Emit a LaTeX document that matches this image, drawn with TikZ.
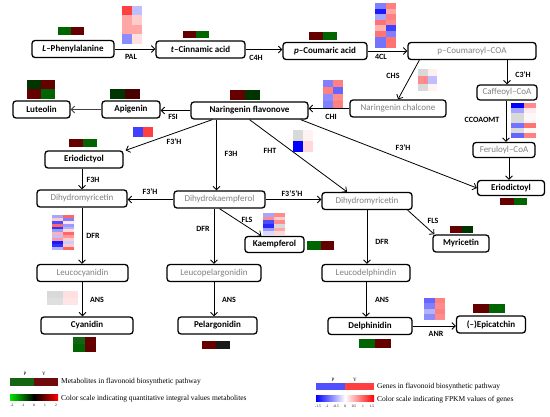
\documentclass[tikz,border=0pt]{standalone}
\usepackage{fontspec}
\setmainfont{Carlito}
\newfontfamily\tnr{Liberation Serif}
\usetikzlibrary{arrows.meta,calc}
\definecolor{mred}{RGB}{100,0,0}
\definecolor{mgreen}{RGB}{0,100,0}
\definecolor{mdgreen}{RGB}{0,52,0}
\definecolor{mdred}{RGB}{72,0,0}
\definecolor{lgreen}{RGB}{20,100,20}
\definecolor{lred}{RGB}{110,10,10}
\definecolor{gtext}{RGB}{128,128,128}
\definecolor{gblue}{RGB}{80,80,255}
\definecolor{gred}{RGB}{255,64,64}
\newcommand\hmap[5]{%
  \foreach \ca/\cb [count=\r from 0] in {#5}{%
    \fill[\ca] ({#1},{#2+\r*#4}) rectangle ++(#3,#4);
    \fill[\cb] ({#1+#3},{#2+\r*#4}) rectangle ++(#3,#4);
  }}
\tikzset{
  box/.style={draw=black, line width=1.3pt, rounded corners=3pt, fill=white,
    minimum height=17pt, inner sep=0pt, font=\fontsize{9}{10}\selectfont},
  mb/.style={box, font=\fontsize{9}{10}\selectfont\bfseries},
  gb/.style={box, text=gtext},
  conn/.style={line width=0.8pt, -{Straight Barb[length=3.5pt,width=7pt]}},
  lab/.style={font=\fontsize{8}{9}\selectfont\bfseries, inner sep=0pt},
  leg/.style={font=\tnr\fontsize{7.5}{8}\selectfont, inner sep=0pt, anchor=west},
  tiny/.style={font=\tnr\fontsize{5}{5.5}\selectfont, inner sep=0pt},
  micro/.style={font=\tnr\fontsize{3.6}{4}\selectfont, inner sep=0pt}
}
\begin{document}
\begin{tikzpicture}[x=1pt,y=-1pt]
\useasboundingbox (0,0) rectangle (550,417);
% nodes
\node[mb, minimum width=82pt] (phe) at (73,49) {\textit{L}–Phenylalanine};
\node[mb, minimum width=89pt] (cin) at (200.5,49.5) {\textit{t}–Cinnamic acid};
\node[mb, minimum width=84pt] (pcou) at (325,51) {\textit{p}–Coumaric acid};
\node[gb, minimum width=128pt] (pcoa) at (472,51) {p–Coumaroyl–COA};
\node[gb, minimum width=60pt, minimum height=15pt] (caf) at (507,92.5) {Caffeoyl–CoA};
\node[gb, minimum width=96pt] (chal) at (398,108.5) {Naringenin chalcone};
\node[mb, minimum width=117pt] (nar) at (249.5,110.5) {Naringenin flavonove};
\node[mb, minimum width=58pt] (api) at (131,109.5) {Apigenin};
\node[mb, minimum width=57pt] (lut) at (41.5,109.5) {Luteolin};
\node[mb, minimum width=78pt] (erio) at (84,159.5) {Eriodictyol};
\node[gb, minimum width=62pt, minimum height=15pt] (fer) at (504,150) {Feruloyl–CoA};
\node[mb, minimum width=67pt, minimum height=15pt] (eriod2) at (511,188) {Eriodictoyl};
\node[gb, minimum width=90pt] (dhm1) at (82,198.5) {Dihydromyricetin};
\node[gb, minimum width=91pt] (dhk) at (219.5,199.5) {Dihydrokaempferol};
\node[gb, minimum width=90pt] (dhm2) at (367,201) {Dihydromyricetin};
\node[mb, minimum width=59pt, minimum height=16pt] (kaem) at (274.5,244.5) {Kaempferol};
\node[mb, minimum width=56pt] (myr) at (461,243.5) {Myricetin};
\node[gb, minimum width=91pt] (leucy) at (82.5,273) {Leucocyanidin};
\node[gb, minimum width=94pt] (leupel) at (214,273) {Leucopelargonidin};
\node[gb, minimum width=88pt] (leudel) at (366,273) {Leucodelphindin};
\node[mb, minimum width=92pt] (cyan) at (87,325.5) {Cyanidin};
\node[mb, minimum width=79pt] (pel) at (217.5,325.5) {Pelargonidin};
\node[mb, minimum width=84pt] (delph) at (370,326) {Delphinidin};
\node[mb, minimum width=69pt] (epi) at (491,324.5) {(–)Epicatchin};
% connectors
\draw[conn] (phe.east) -- (cin.west |- phe.east);
\draw[conn] (cin.east) -- (pcou.west |- cin.east);
\draw[conn] (pcou.east) -- (pcoa.west);
\draw[conn] ([xshift=12pt]pcoa.south west) -- (chal.north);
\draw[conn] (pcoa.south -| caf.north) -- (caf.north);
\draw[conn] (chal.west) -- (nar.east |- chal.west);
\draw[conn] (nar.west) -- (api.east |- nar.west);
\draw[conn, draw=black!75] (api.west) -- (lut.east);
\draw[conn] ([xshift=22pt]nar.south west) -- ([xshift=2pt]erio.north east);
\draw[conn] ([xshift=-3pt]dhk.north |- nar.south) -- ([xshift=-3pt]dhk.north);
\draw[conn] (nar.south) -- ([xshift=-20pt]dhm2.north);
\draw[conn] ([xshift=-8pt]nar.south east) -- (eriod2.west);
\draw[conn] (caf.south -| fer.north) ++(2pt,0) -- ([xshift=2pt]fer.north);
\draw[conn] (eriod2.north |- fer.south) ++(-2pt,0) -- ([xshift=-2pt]eriod2.north);
\draw[conn] (erio.south -| dhm1.north) -- (dhm1.north);
\draw[conn] (dhk.west) -- (dhm1.east |- dhk.west);
\draw[conn] (dhk.east) -- (dhm2.west |- dhk.east);
\draw[conn] (dhm1.south) -- (leucy.north -| dhm1.south);
\draw[conn] (leupel.north |- dhk.south) -- (leupel.north);
\draw[conn] (dhk.south) -- ([xshift=17pt]kaem.north west);
\draw[conn] (leucy.south) -- (leucy.south |- cyan.north);
\draw[conn] (leupel.south) -- (leupel.south |- pel.north);
\draw[conn] (dhm2.south) -- (dhm2.south |- leudel.north);
\draw[conn] ([xshift=-5pt]dhm2.south east) -- ([xshift=2pt]myr.north west);
\draw[conn] (leudel.south) -- (leudel.south |- delph.north);
\draw[conn] (delph.east) -- (epi.west |- delph.east);
% enzyme labels
\node[lab] (lPAL) at (131,57) {PAL};
\node[lab] (lC4H) at (256,58) {C4H};
\node[lab] (l4CL) at (381,57) {4CL};
\node[lab] (lCHS) at (393,76) {CHS};
\node[lab] (lC3H) at (523,75) {C3’H};
\node[lab] (lCHI) at (331,117) {CHI};
\node[lab] (lFSI) at (173,117) {FSI};
\node[lab] (lF3Ha) at (174,142) {F3’H};
\node[lab] (lF3Hb) at (231,154) {F3H};
\node[lab] (lFHT) at (270,151) {FHT};
\node[lab] (lF3Hc) at (403,148) {F3’H};
\node[lab] (lCCO) at (482,120) {CCOAOMT};
\node[lab] (lF3Hd) at (93,180) {F3H};
\node[lab] (lF3He) at (150,192) {F3’H};
\node[lab] (lF35H) at (292,194) {F3’5’H};
\node[lab] (lDFRa) at (93,236) {DFR};
\node[lab] (lDFRb) at (203,229) {DFR};
\node[lab] (lFLSa) at (247,220) {FLS};
\node[lab] (lDFRc) at (382,242) {DFR};
\node[lab] (lFLSb) at (433,221) {FLS};
\node[lab] (lANSa) at (97,300) {ANS};
\node[lab] (lANSb) at (229,300) {ANS};
\node[lab] (lANSc) at (382,300) {ANS};
\node[lab] (lANR) at (436,334) {ANR};
% heatmaps
\hmap{58}{27}{13}{8}{mgreen/mred}
\hmap{122}{6}{10}{9.5}{red!75/blue!25, red!35/red!20, red!35/red!35, blue!45/red!12}
\hmap{183}{31}{13}{7}{mred/mgreen}
\hmap{309}{32}{14}{8}{mred/mgreen}
\hmap{375}{3}{10.5}{5.6}{blue!50/red!50, blue!90/red!35, blue!35/red!50, red!55/red!45, red!30/blue!75, red!55/blue!50, blue!55/red!55, blue!55/red!55}
\hmap{418}{69}{9.5}{7.3}{gray!30/red!6, red!45/blue!25, gray!30/red!5}
\hmap{323}{80}{10}{7}{blue!50/red!50, red!50/blue!60, blue!45/red!45, blue!50/red!50}
\hmap{230}{90}{15}{10}{mred/mdgreen}
\hmap{110}{89}{15}{10}{mdgreen/mdred}
\hmap{27}{80}{14}{9.5}{mdgreen/mred, mred/mgreen}
\hmap{133}{127}{10}{10}{blue!75/red!75}
\hmap{69}{139}{14}{8}{mred/mgreen}
\hmap{293}{130}{10}{11}{gray!30/red!5, blue!100/red!15}
\hmap{511}{103}{12.5}{5}{blue!100/red!45, blue!35/red!8, gray!30/red!3, gray!30/red!3, blue!55/red!55, gray!30/red!3, blue!60/red!50}
\hmap{500}{198}{13.5}{7}{mred/mgreen}
\hmap{52}{215}{11}{2.9}{blue!35/red!60, red!20/blue!50, blue!70/red!10, red!60/blue!40, blue!80/blue!30, blue!40/red!15, red!30/red!60, blue!25/red!40, red!40/red!20, blue!90/blue!20, blue!80/red!20, blue!30/red!60}
\hmap{47}{291}{15.5}{7}{gray!30/red!12, gray!25/red!10}
\hmap{73}{337}{11.5}{7.5}{lgreen/mred, mgreen/mred}
\hmap{263}{213}{11}{3.7}{blue!35/red!45, red!45/red!20, blue!70/red!45, blue!85/gray!30, blue!40/red!35, blue!15/red!15}
\hmap{307}{241}{13.5}{9}{mgreen/mred}
\hmap{202}{341}{14}{8}{mred/black!90}
\hmap{450}{226}{11.5}{7}{mred/mdgreen}
\hmap{424}{298}{10.5}{5.5}{blue!60/red!50, blue!50/red!45, blue!30/red!50, blue!45/red!45}
\hmap{359}{339}{16}{9}{mgreen/mred}
\hmap{473}{304}{16}{9}{mred/mgreen}
% legend left
\node[tiny] (lP1) at (25,373.5) {P};
\node[tiny] (lY1) at (44,373.5) {Y};
\fill[lgreen] (10,378) rectangle (34,386);
\fill[lred] (34,378) rectangle (58,386);
\node[leg] (t1) at (61,382) {Metabolites in flavonoid biosynthetic pathway};
\shade[left color=green!90!black, right color=red, middle color=black] (10,395) rectangle (58,401);
\foreach \v [count=\i from 0] in {-2,-1,0,1,2} \node[micro] at (12+\i*11,405) {\v};
\node[leg] (t2) at (61,398.5) {Color scale indicating quantitative integral values metabolites};
% legend right
\node[tiny] (lP2) at (333,379.5) {P};
\node[tiny] (lY2) at (355,379.5) {Y};
\fill[gblue] (316,383) rectangle (345,390);
\fill[gred] (345,383) rectangle (374,390);
\node[leg] (t3) at (377,386.5) {Genes in flavonoid biosynthetic pathway};
\shade[left color=blue, right color=red, middle color=white] (316,396) rectangle (374,402);
\foreach \v [count=\i from 0] in {-1.5,-1,-0.5,0,0.5,1,1.5} \node[micro] at (318+\i*9,406) {\v};
\node[leg] (t4) at (377,400) {Color scale indicating FPKM values of genes};
\end{tikzpicture}
\end{document}
